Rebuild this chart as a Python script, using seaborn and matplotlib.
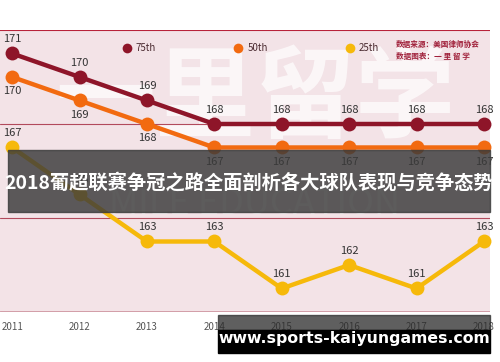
import pandas as pd
import numpy as np
import matplotlib.pyplot as plt
import seaborn as sns
from matplotlib.patches import Rectangle

sns.set_theme(style="white")
plt.rcParams["font.family"] = ["Noto Sans CJK SC", "DejaVu Sans"]

# %%
# Data
years = [2011, 2012, 2013, 2014, 2015, 2016, 2017, 2018]
p75 = [171, 170, 169, 168, 168, 168, 168, 168]
p50 = [170, 169, 168, 167, 167, 167, 167, 167]
p25 = [167, 165, 163, 163, 161, 162, 161, 163]
series_names = ["75th", "50th", "25th"]
colors = ["#8e1529", "#f26a10", "#f6b90a"]
title = "2018葡超联赛争冠之路全面剖析各大球队表现与竞争态势"
source_lines = ["数据来源：美国律师协会", "数据图表：一 里 留 学"]
site = "www.sports-kaiyungames.com"

df = pd.DataFrame({"year": years * 3,
                   "value": p75 + p50 + p25,
                   "pct": np.repeat(series_names, len(years))})

# %%
fig = plt.figure(figsize=(5, 3.62), dpi=100)
ax = fig.add_axes([0.0, 50 / 362, 490 / 500, 282 / 362])
ax.set_facecolor("#f3e3e7")

# watermark
ax.text(2014.6, 169.0, "一里留学", fontsize=72, color="white", alpha=0.7,
        ha="center", va="center", fontweight="bold", zorder=0)
ax.text(2014.6, 164.6, "MILE EDUCATION", fontsize=26, color="white", alpha=0.7,
        ha="center", va="center", zorder=0)

# rules
ax.axhline(172, color="#b8233a", lw=1.5, zorder=1)
for y in [168, 164]:
    ax.axhline(y, color="#b24a5c", lw=0.8, zorder=1)
ax.axhline(160, color="#c98995", lw=1.8, zorder=1)

sns.lineplot(data=df, x="year", y="value", hue="pct", palette=colors,
             marker="o", markersize=10, markeredgewidth=0, linewidth=3.2,
             ax=ax, legend=True, clip_on=False, zorder=3)

# value labels
for vals, above in [(p75, True), (p50, False), (p25, True)]:
    for x, v in zip(years, vals):
        off = 0.6 if above else -0.6
        ax.text(x, v + off, str(v), ha="center", va="center",
                fontsize=8, color="#333333", zorder=4)

ax.set_xlim(2010.82, 2018.09)
ax.set_ylim(160, 172)
ax.set_xticks(years)
ax.set_xticklabels([str(y) for y in years], fontsize=7, color="#555555")
ax.tick_params(axis="x", length=0, pad=7)
ax.set_yticks([])
ax.set_xlabel("")
ax.set_ylabel("")
for s in ax.spines.values():
    s.set_visible(False)

leg = ax.legend(loc="upper left", bbox_to_anchor=(0.235, 0.985), ncol=3,
                frameon=False, fontsize=7, handlelength=0.6,
                handletextpad=0.6, columnspacing=8.2, markerscale=0.7)
for line in leg.get_lines():
    line.set_linewidth(0)
for t in leg.get_texts():
    t.set_color("#4a2a30")

for i, s in enumerate(source_lines):
    fig.text(396 / 500, 1 - (44 + 12 * i) / 362, s, fontsize=5.5,
             color="#a0203a", va="center", ha="left", fontweight="bold")

# overlays
fig.patches.append(Rectangle((8 / 500, 1 - 212 / 362), 482 / 500, 62 / 362,
                             transform=fig.transFigure, color="#3a3a3a",
                             alpha=0.82, zorder=5))
fig.text(249 / 500, 1 - 183 / 362, title, fontsize=13.9, color="white",
         fontweight="bold", ha="center", va="center", zorder=6)
fig.patches.append(Rectangle((218 / 500, 1 - 330 / 362), 272 / 500, 15 / 362,
                             transform=fig.transFigure, color="#2a2a2a",
                             alpha=0.75, zorder=5))
fig.patches.append(Rectangle((218 / 500, 1 - 353 / 362), 272 / 500, 23 / 362,
                             transform=fig.transFigure, color="black",
                             zorder=5))
fig.text(354 / 500, 1 - 338 / 362, site, fontsize=11.3, color="white",
         fontweight="bold", ha="center", va="center", zorder=6,
         family="DejaVu Sans")

fig.savefig("out.png", dpi=100)
